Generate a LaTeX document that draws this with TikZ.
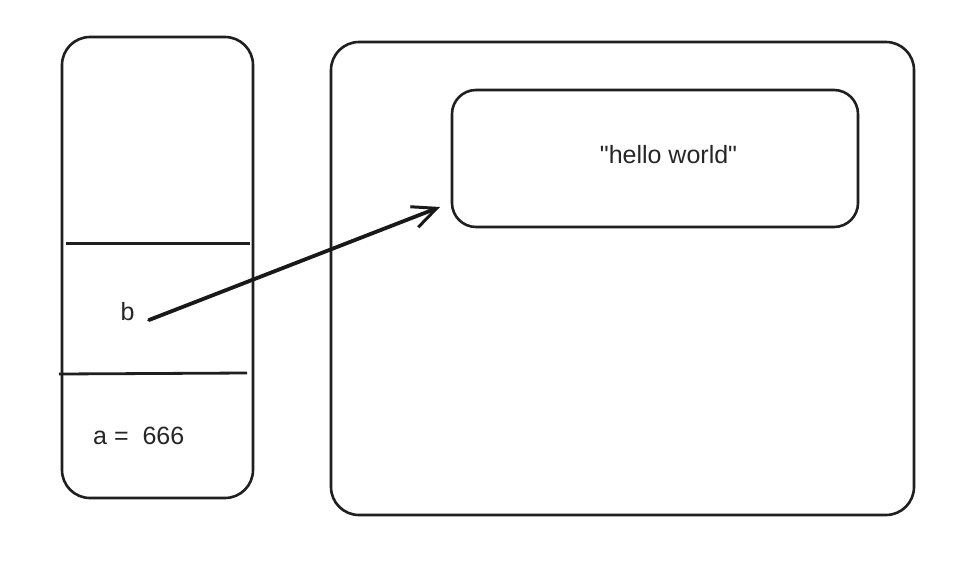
\documentclass[tikz,border=0pt]{standalone}
\usepackage{fontspec}
\setmainfont{Liberation Sans}
\usetikzlibrary{arrows.meta}
\begin{document}
\begin{tikzpicture}[x=1pt,y=-1pt,
  box/.style={draw=black!88, line width=2.6pt, rounded corners=28pt, inner sep=0pt},
  lbl/.style={font=\fontsize{25}{29}\selectfont, text=black!85, inner sep=0pt},
  sep/.style={draw=black!88, line width=2.8pt},
  ptr/.style={draw=black!90, line width=3.8pt, line cap=round, -{Straight Barb[length=24pt,width=22pt,line width=3pt]}}]
\useasboundingbox (0,0) rectangle (953,581);
\fill[white] (0,0) rectangle (953,581);
% stack frame
\node (stack) [box, minimum width=191pt, minimum height=461pt] at (157.5,267.5) {};
\coordinate (s1l) at (66,243.5);
\coordinate (s1r) at (250,243.5);
\coordinate (s2l) at (59,374);
\coordinate (s2r) at (247,373);
\draw[sep] (s1l) -- (s1r);
\draw[sep] (s2l) -- (s2r);
\node (b) [lbl] at (127.5,312) {b};
\node (a) [lbl, anchor=west] at (93,436) {a =\ \ 666};
% heap
\node (heap) [box, minimum width=583pt, minimum height=473pt] at (622.5,278.5) {};
\node (str) [box, rounded corners=24pt, minimum width=406pt, minimum height=137pt] at (655,158.5) {};
\node (txt) [lbl] at (668.5,155) {\textquotedbl hello world\textquotedbl};
% pointer
\coordinate (p0) at (149,320);
\coordinate (p1) at (440,207);
\draw[ptr] (p0) -- (p1);
\end{tikzpicture}
\end{document}
